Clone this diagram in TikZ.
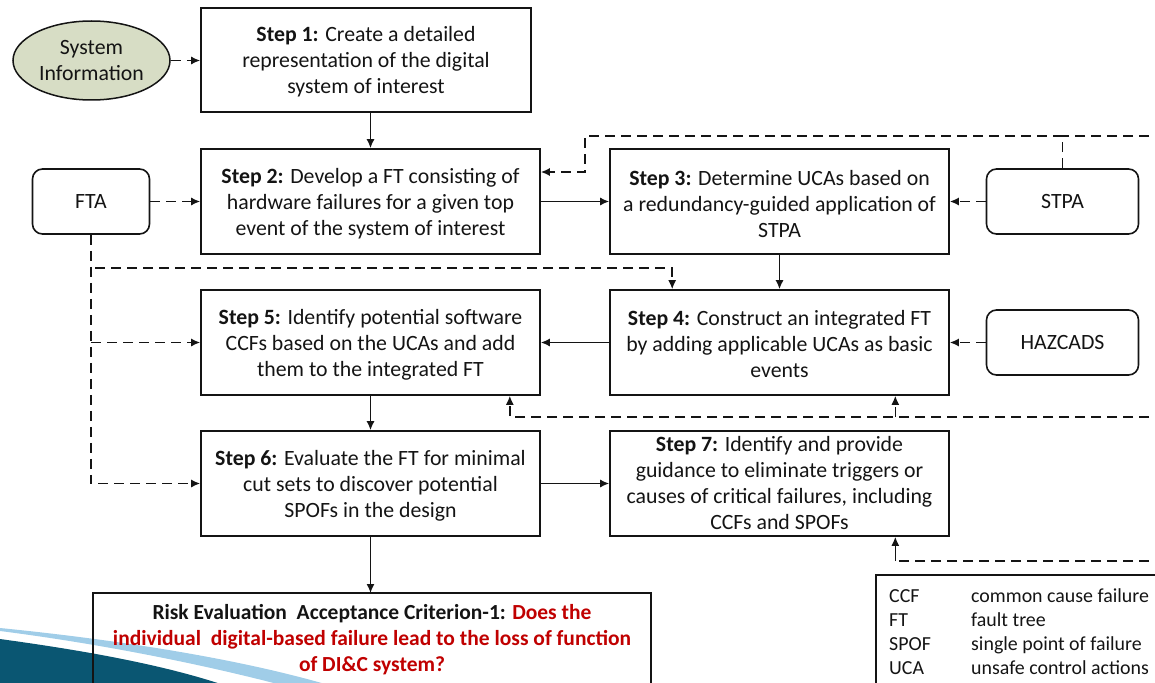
\documentclass[tikz,border=0pt]{standalone}
\usepackage{fontspec}
\setmainfont{Carlito}
\usetikzlibrary{arrows.meta,shapes.geometric}

\definecolor{sysfill}{RGB}{215,221,197}
\definecolor{riskred}{RGB}{192,0,0}
\definecolor{swdark}{RGB}{10,86,114}
\definecolor{swlight}{RGB}{160,205,232}
\definecolor{ink}{RGB}{20,20,20}

% raises the first line so the block sits a little lower in its box
\newcommand\firstline{\rule{0pt}{19.5pt}}

\begin{document}
\begin{tikzpicture}[x=1pt,y=-1pt,
  every node/.style={font=\fontsize{21.8}{26}\selectfont, inner sep=0pt, text=ink},
  stepbox/.style={draw=ink, line width=1.6pt, align=center,
    minimum width=339pt, minimum height=105pt},
  srcbox/.style={draw=ink, line width=1.6pt, rounded corners=10pt, align=center,
    minimum width=152pt, minimum height=65pt},
  tip/.style={-{Latex[length=9pt,width=8pt]}},
  solidarrow/.style={draw=ink, line width=1.5pt, tip},
  dashline/.style={draw=ink, line width=1.5pt, dash pattern=on 10pt off 6pt},
  dasharrow/.style={dashline, tip},
  legtext/.style={font=\fontsize{19.9}{24}\selectfont, anchor=base west}]

\useasboundingbox (0,0) rectangle (1155,682);
\clip (0,0) rectangle (1155,682);

% corner swoosh
\fill[swlight] (0,628) .. controls (120,640) and (250,660) .. (345,690)
  -- (300,690) .. controls (220,668) and (110,645) .. (0,631) -- cycle;
\fill[swdark] (0,639) .. controls (80,650) and (170,665) .. (238,690)
  -- (0,690) -- cycle;

% inputs
\node[ellipse, draw=ink, line width=1.5pt, fill=sysfill, align=center,
  minimum width=157pt, minimum height=79pt] (sys) at (91.5,60.5)
  {System\\Information};
\node[srcbox, minimum width=117pt] (fta) at (91,201.5) {FTA};
\node[srcbox] (stpa) at (1062.5,201.5) {STPA};
\node[srcbox] (haz) at (1062.5,342.5) {HAZCADS};

% process steps
\node[stepbox, minimum width=330pt, minimum height=104pt] (s1) at (366,60)
  {\firstline\textbf{Step 1:} Create a detailed\\representation of the digital\\system of interest};
\node[stepbox] (s2) at (370.5,201.5)
  {\firstline\textbf{Step 2:} Develop a FT consisting of\\hardware failures for a given top\\event of the system of interest};
\node[stepbox] (s3) at (779.5,201.5)
  {\firstline\textbf{Step 3:} Determine UCAs based on\\a redundancy-guided application of\\STPA};
\node[stepbox] (s4) at (779.5,342.5)
  {\rule{0pt}{17.5pt}\textbf{Step 4:} Construct an integrated FT\\by adding applicable UCAs as basic\\events};
\node[stepbox] (s5) at (370.5,342.5)
  {\firstline\textbf{Step 5:} Identify potential software\\CCFs based on the UCAs and add\\them to the integrated FT};
\node[stepbox] (s6) at (370.5,483.5)
  {\firstline\textbf{Step 6:} Evaluate the FT for minimal\\cut sets to discover potential\\SPOFs in the design};
\node[stepbox] (s7) at (779.5,483.5)
  {\textbf{Step 7:} Identify and provide\\guidance to eliminate triggers or\\causes of critical failures, including\\CCFs and SPOFs};

% acceptance criterion (runs past the lower edge)
\draw[ink, line width=1.6pt] (93,593) rectangle (651,700);
\coordinate (risk) at (372,593);
\node[anchor=north, align=center, font=\bfseries\fontsize{21.5}{26}\selectfont] (risktxt) at (372,604)
  {Risk Evaluation\ \ Acceptance Criterion-1: \textcolor{riskred}{Does the}\\
   \textcolor{riskred}{individual\ \ digital-based failure lead to the loss of function}\\
   \textcolor{riskred}{of DI\&C system?}};

% abbreviations (runs past the lower right edge)
\draw[ink, line width=1.5pt] (876,575) rectangle (1175,700);
\node[legtext] (l1a) at (889,602) {CCF};
\node[legtext] (l1b) at (971,602) {common cause failure};
\node[legtext] (l2a) at (889,626) {FT};
\node[legtext] (l2b) at (971,626) {fault tree};
\node[legtext] (l3a) at (889,650) {SPOF};
\node[legtext] (l3b) at (971,650) {single point of failure};
\node[legtext] (l4a) at (889,674) {UCA};
\node[legtext] (l4b) at (971,674) {unsafe control actions};

% main flow
\draw[dasharrow] (sys.east) -- (s1.west |- sys.east);
\draw[solidarrow] (s2.north |- s1.south) -- (s2.north);
\draw[solidarrow] (s2.east) -- (s3.west);
\draw[solidarrow] (s3.south) -- (s4.north);
\draw[solidarrow] (s4.west) -- (s5.east);
\draw[solidarrow] (s5.south) -- (s6.north);
\draw[solidarrow] (s6.east) -- (s7.west);
\draw[solidarrow] (s6.south) -- (s6.south |- risk);

% FTA feeds
\coordinate (j1) at (95,268);
\coordinate (t4) at ([xshift=63pt]s4.north west);
\draw[dasharrow] (fta.east) -- (s2.west);
\draw[dasharrow] (fta.south) |- (s6.west);
\draw[dasharrow] (fta.south |- s5.west) -- (s5.west);
\draw[dasharrow] (j1) -| (t4);

% STPA and HAZCADS feeds
\coordinate (k1) at (585,136);
\coordinate (e2) at ([yshift=29.5pt]s2.east);
\coordinate (r1) at (1165,136);
\draw[dasharrow] (stpa.west) -- (s3.east);
\draw[dasharrow] (haz.west) -- (s4.east);
\draw[dasharrow] (stpa.north) |- (k1) |- (e2);
\draw[dashline, line width=2.2pt] (r1) -- (stpa.north |- r1);

% feedback lines entering from the right
\coordinate (r2) at (1165,417);
\coordinate (b5) at ([xshift=-31pt]s5.south east);
\coordinate (b4) at ([xshift=-54.5pt]s4.south east);
\draw[dasharrow] (r2) -| (b5);
\draw[dasharrow] (b4 |- r2) -- (b4);

\coordinate (r3) at (1165,561);
\coordinate (b7) at ([xshift=-54.5pt]s7.south east);
\draw[dashline] (r3) -- ([xshift=2pt]b7 |- r3);
\draw[solidarrow] (b7 |- r3) -- (b7);

\end{tikzpicture}
\end{document}
